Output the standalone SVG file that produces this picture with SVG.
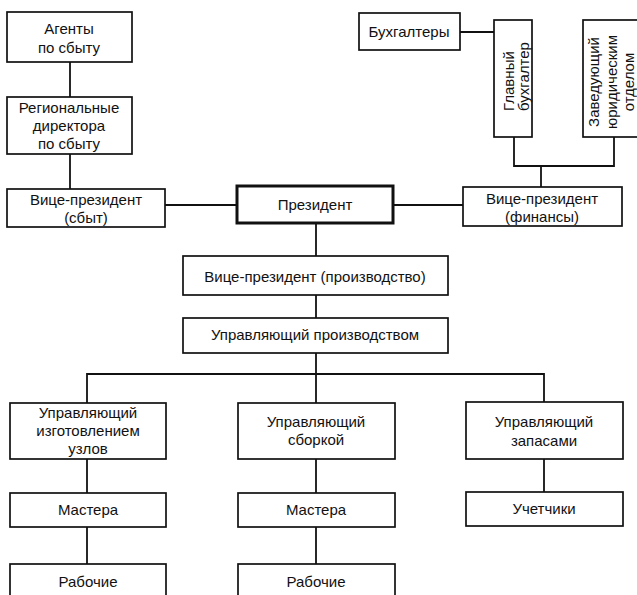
<svg xmlns="http://www.w3.org/2000/svg" width="637" height="595" viewBox="0 0 637 595">
  <style>
    .box { fill: #fff; stroke: #111; stroke-width: 1.7; }
    .boss { fill: #fff; stroke: #111; stroke-width: 3; }
    .lbl { font-family: "Liberation Sans", Arial, sans-serif; font-size: 15px; fill: #111; text-anchor: middle; }
    .vs { text-anchor: start; }
    .wire { fill: none; stroke: #111; stroke-width: 1.8; }
  </style>
  <rect width="637" height="595" fill="#fff"/>

  <!-- connectors -->
  <g id="connectors" class="wire">
    <line x1="70" y1="62" x2="70" y2="97"/>
    <line x1="70" y1="154" x2="70" y2="189"/>
    <line x1="165" y1="205" x2="237" y2="205"/>
    <line x1="393" y1="205" x2="463" y2="205"/>
    <line x1="460" y1="32" x2="494" y2="32"/>
    <polyline points="514,137 514,166 614,166 614,137"/>
    <line x1="541" y1="166" x2="541" y2="187"/>
    <line x1="316" y1="223" x2="316" y2="256"/>
    <line x1="316" y1="295" x2="316" y2="318"/>
    <line x1="316" y1="353" x2="316" y2="403"/>
    <polyline points="87,403 87,374 544,374 544,402"/>
    <line x1="87" y1="459" x2="87" y2="493"/>
    <line x1="87" y1="527" x2="87" y2="564"/>
    <line x1="316" y1="459" x2="316" y2="493"/>
    <line x1="316" y1="527" x2="316" y2="564"/>
    <line x1="544" y1="459" x2="544" y2="492"/>
  </g>

  <!-- sales branch -->
  <g id="agents">
    <rect class="box" x="7" y="12" width="125" height="50"/>
    <text class="lbl" x="69" y="34">Агенты</text>
    <text class="lbl" x="69" y="53">по сбыту</text>
  </g>
  <g id="regional">
    <rect class="box" x="7" y="97" width="125" height="57"/>
    <text class="lbl" x="69" y="113">Региональные</text>
    <text class="lbl" x="69" y="131">директора</text>
    <text class="lbl" x="69" y="149">по сбыту</text>
  </g>
  <g id="vp-sales">
    <rect class="box" x="7" y="189" width="158" height="38"/>
    <text class="lbl" x="86" y="205">Вице-президент</text>
    <text class="lbl" x="86" y="223">(сбыт)</text>
  </g>

  <g id="president">
    <rect class="boss" x="237" y="186" width="156" height="37"/>
    <text class="lbl" x="315" y="210">Президент</text>
  </g>

  <!-- finance branch -->
  <g id="accountants">
    <rect class="box" x="359" y="13" width="101" height="37"/>
    <text class="lbl" x="409" y="37">Бухгалтеры</text>
  </g>
  <g id="chief-accountant">
    <rect class="box" x="494" y="20" width="38" height="117"/>
    <text class="lbl vs" transform="translate(514,111) rotate(-90)">Главный</text>
    <text class="lbl vs" transform="translate(529,111) rotate(-90)">бухгалтер</text>
  </g>
  <g id="legal-head">
    <rect class="box" x="583" y="20" width="60" height="117"/>
    <text class="lbl" transform="translate(599,82) rotate(-90)">Заведующий</text>
    <text class="lbl" transform="translate(617,82) rotate(-90)">юридическим</text>
    <text class="lbl" transform="translate(634,82) rotate(-90)">отделом</text>
  </g>
  <g id="vp-finance">
    <rect class="box" x="463" y="187" width="159" height="39"/>
    <text class="lbl" x="542" y="204">Вице-президент</text>
    <text class="lbl" x="542" y="222">(финансы)</text>
  </g>

  <!-- production branch -->
  <g id="vp-production">
    <rect class="box" x="183" y="256" width="265" height="39"/>
    <text class="lbl" x="315" y="282">Вице-президент (производство)</text>
  </g>
  <g id="production-manager">
    <rect class="box" x="183" y="318" width="265" height="35"/>
    <text class="lbl" x="315" y="340">Управляющий производством</text>
  </g>

  <g id="parts-manager">
    <rect class="box" x="10" y="403" width="156" height="56"/>
    <text class="lbl" x="88" y="418">Управляющий</text>
    <text class="lbl" x="88" y="436">изготовлением</text>
    <text class="lbl" x="88" y="454">узлов</text>
  </g>
  <g id="assembly-manager">
    <rect class="box" x="238" y="403" width="157" height="56"/>
    <text class="lbl" x="316" y="427">Управляющий</text>
    <text class="lbl" x="316" y="445">сборкой</text>
  </g>
  <g id="stock-manager">
    <rect class="box" x="466" y="402" width="157" height="57"/>
    <text class="lbl" x="544" y="427">Управляющий</text>
    <text class="lbl" x="544" y="446">запасами</text>
  </g>

  <g id="foremen-parts">
    <rect class="box" x="10" y="493" width="156" height="34"/>
    <text class="lbl" x="88" y="515">Мастера</text>
  </g>
  <g id="foremen-assembly">
    <rect class="box" x="238" y="493" width="157" height="34"/>
    <text class="lbl" x="316" y="515">Мастера</text>
  </g>
  <g id="stock-clerks">
    <rect class="box" x="466" y="492" width="157" height="34"/>
    <text class="lbl" x="544" y="514">Учетчики</text>
  </g>

  <g id="workers-parts">
    <rect class="box" x="10" y="564" width="156" height="40"/>
    <text class="lbl" x="88" y="587">Рабочие</text>
  </g>
  <g id="workers-assembly">
    <rect class="box" x="238" y="564" width="157" height="40"/>
    <text class="lbl" x="316" y="587">Рабочие</text>
  </g>
</svg>
